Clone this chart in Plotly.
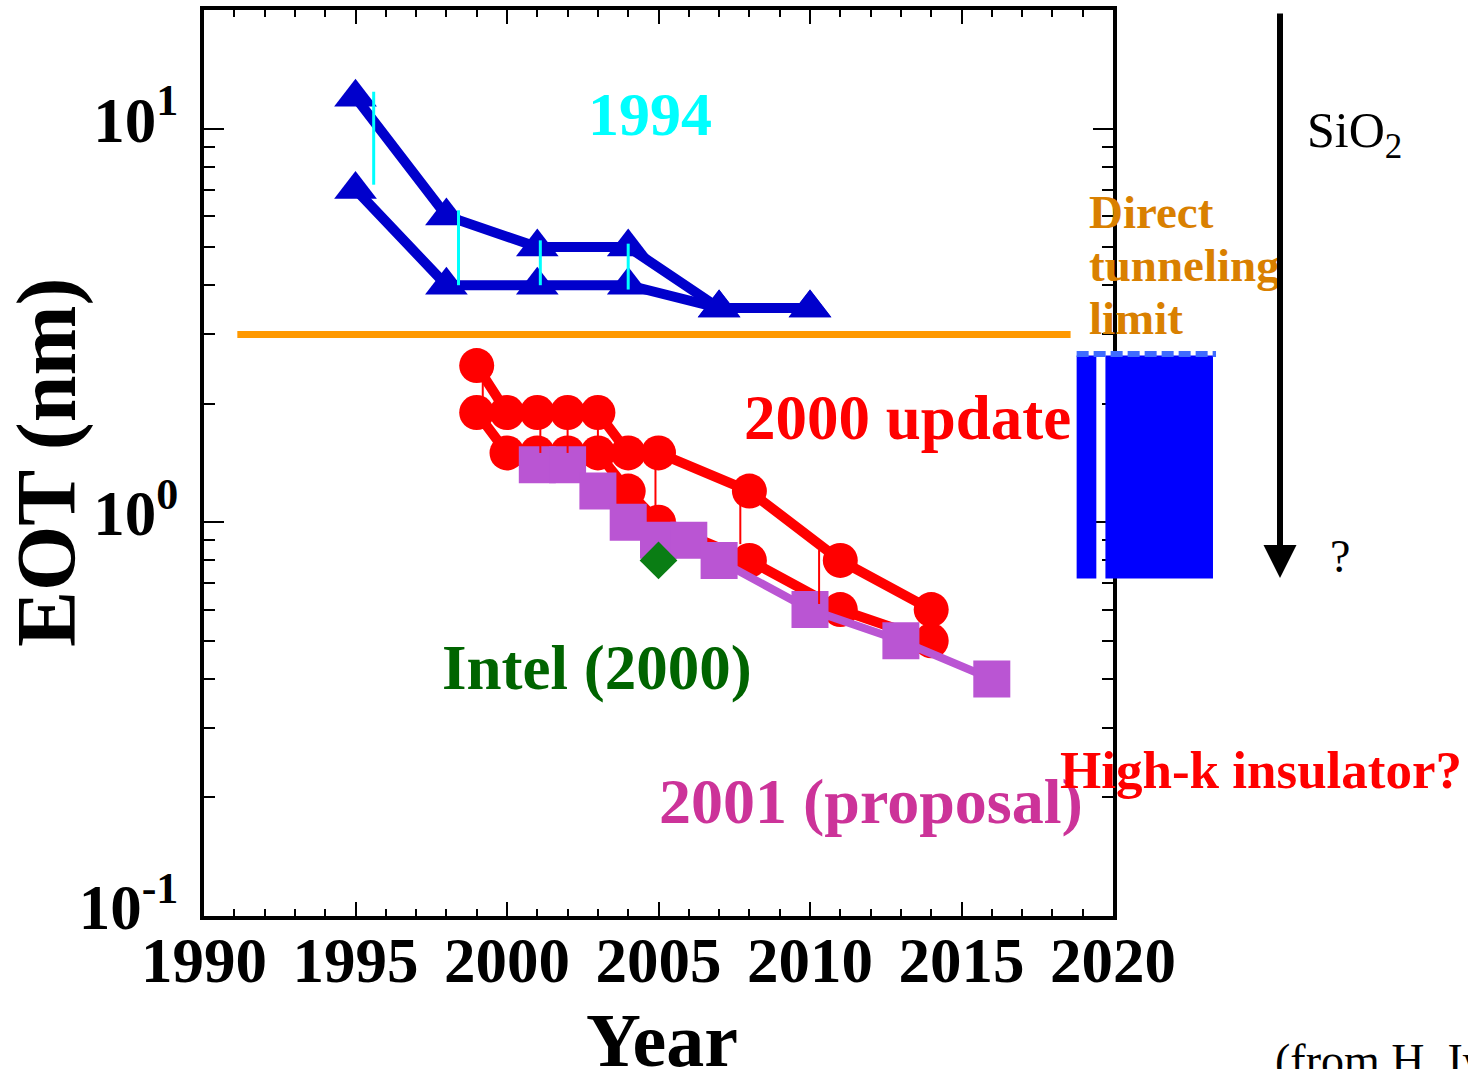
import numpy as np
import plotly.graph_objects as go

# ---------------- data ----------------
# 1994 roadmap (blue triangles): upper and lower bound of EOT (nm)
y94_years = [1995, 1998, 2001, 2004, 2007, 2010]
y94_upper = [12.0, 6.0, 5.0, 5.0, 3.5, 3.5]
y94_lower = [7.0, 4.0, 4.0, 4.0, 3.5, 3.5]
# cyan range bars of the 1994 roadmap
cyan_x = [1995.6, 1998.4, 2001.1, 2004.0]
cyan_top = [12.4, 6.2, 5.2, 5.1]
cyan_bot = [7.2, 4.0, 4.0, 3.9]

# 2000 update (red circles)
u00_years = [1999, 2000, 2001, 2002, 2003, 2004, 2005, 2008, 2011, 2014]
u00_upper = [2.5, 1.9, 1.9, 1.9, 1.9, 1.5, 1.5, 1.2, 0.8, 0.6]
u00_lower = [1.9, 1.5, 1.5, 1.5, 1.5, 1.2, 1.0, 0.8, 0.6, 0.5]
# thin red range bars
red_x = [1999.2, 2001.1, 2002.0, 2003.0, 2004.9, 2007.7, 2010.3]
red_top = [2.6, 2.0, 2.0, 2.0, 1.48, 1.18, 0.85]
red_bot = [1.9, 1.5, 1.5, 1.5, 1.1, 0.88, 0.62]

# 2001 proposal (purple squares)
p01_years = [2001, 2002, 2003, 2004, 2005, 2006, 2007, 2010, 2013, 2016]
p01_eot = [1.4, 1.4, 1.2, 1.0, 0.9, 0.9, 0.8, 0.6, 0.5, 0.4]

# Intel (2000)
intel_year = [2005]
intel_eot = [0.8]

# direct tunneling limit
tunnel_eot = 3.0
tunnel_x = [1991.1, 2018.6]

# high-k block (blue rectangles)
hk_left = [[2018.8, 2019.45], [2019.75, 2023.3]]
hk_lo = 0.72
hk_hi = 2.65

x_ticks = [1990, 1995, 2000, 2005, 2010, 2015, 2020]
x_minor = list(range(1990, 2021))
y_ticks = [0.1, 1, 10]
y_ticktext = ['10<sup>-1</sup>', '10<sup>0</sup>', '10<sup>1</sup>']
y_minor = [0.2, 0.3, 0.4, 0.5, 0.6, 0.7, 0.8, 0.9, 2, 3, 4, 5, 6, 7, 8, 9, 20]

# ---------------- layout geometry ----------------
W, H = 1468, 1069
PX0, PX1 = 204, 1113   # plot area left/right (px)
PY0, PY1 = 10, 916     # plot area top/bottom (px)
XR = [1990, 2020]
YR = [-1, np.log10(20)]

def px(x):
    return x / W

def py(y):
    return 1 - y / H

# helper overlay axes spanning the whole figure at the same scale
ypp = (XR[1] - XR[0]) / (PX1 - PX0)
x2r = [XR[0] - PX0 * ypp, XR[1] + (W - PX1) * ypp]
dpp = (YR[1] - YR[0]) / (PY1 - PY0)
y2r = [YR[0] - (H - PY1) * dpp, YR[1] + PY0 * dpp]

SERIF = 'Liberation Serif'
fig = go.Figure()

def segs(xs, tops, bots):
    X, Y = [], []
    for x, t, b in zip(xs, tops, bots):
        X += [x, x, None]
        Y += [t, b, None]
    return X, Y

BLUE = '#0000CC'
fig.add_trace(go.Scatter(x=tunnel_x, y=[tunnel_eot] * 2, mode='lines',
                         line=dict(color='#FF9900', width=7)))
for ys in (y94_upper, y94_lower):
    fig.add_trace(go.Scatter(x=y94_years, y=ys, mode='lines+markers',
                             line=dict(color=BLUE, width=10),
                             marker=dict(symbol='triangle-up', size=37, color=BLUE)))
for ys in (u00_upper, u00_lower):
    fig.add_trace(go.Scatter(x=u00_years, y=ys, mode='lines+markers',
                             line=dict(color='#FF0000', width=10),
                             marker=dict(symbol='circle', size=35, color='#FF0000')))
fig.add_trace(go.Scatter(x=p01_years, y=p01_eot, mode='lines+markers',
                         line=dict(color='#BA55D3', width=8),
                         marker=dict(symbol='square', size=37, color='#BA55D3')))
fig.add_trace(go.Scatter(x=intel_year, y=intel_eot, mode='markers',
                         marker=dict(symbol='diamond', size=29, color='#0A7D14')))
cx, cy = segs(cyan_x, cyan_top, cyan_bot)
fig.add_trace(go.Scatter(x=cx, y=cy, mode='lines', line=dict(color='#00FFFF', width=3)))
rx, ry = segs(red_x, red_top, red_bot)
fig.add_trace(go.Scatter(x=rx, y=ry, mode='lines', line=dict(color='#FF0000', width=2)))

# high-k rectangles and dotted limit (helper axes, not clipped to plot area)
for x0, x1 in hk_left:
    fig.add_trace(go.Scatter(x=[x0, x1, x1, x0, x0], y=[hk_lo, hk_lo, hk_hi, hk_hi, hk_lo],
                             mode='lines', fill='toself', fillcolor='#0000FF',
                             line=dict(width=0), xaxis='x2', yaxis='y2'))
fig.add_trace(go.Scatter(x=[hk_left[0][0], hk_left[1][1] + 0.1], y=[hk_hi * 1.01] * 2,
                         mode='lines', line=dict(color='#3F6BFF', width=6, dash='12px,5px'),
                         xaxis='x2', yaxis='y2'))

axis_common = dict(showline=True, linewidth=4, linecolor='black', mirror='ticks',
                   ticks='inside', tickcolor='black', showgrid=False, zeroline=False,
                   automargin=False)
fig.update_layout(
    template='none',
    width=W, height=H, margin=dict(l=0, r=0, t=0, b=0, pad=0, autoexpand=False),
    paper_bgcolor='white', plot_bgcolor='rgba(0,0,0,0)', showlegend=False,
    xaxis=dict(domain=[px(PX0), px(PX1)], range=XR, anchor='y',
               tickmode='array', tickvals=x_ticks, ticklen=14, tickwidth=2,
               minor=dict(tickvals=x_minor, ticks='inside', ticklen=7, tickwidth=1.5, tickcolor='black'),
               tickfont=dict(family=SERIF, size=63, color='black', weight='bold'),
               ticklabelstandoff=-14, **axis_common),
    yaxis=dict(domain=[py(PY1), py(PY0)], type='log', range=YR, anchor='x',
               tickmode='array', tickvals=y_ticks, ticktext=y_ticktext, ticklen=20, tickwidth=2,
               minor=dict(tickvals=y_minor, ticks='inside', ticklen=11, tickwidth=1.5, tickcolor='black'),
               tickfont=dict(family=SERIF, size=63, color='black', weight='bold'),
               ticklabelstandoff=9, ticklabelshift=-9, **axis_common),
    xaxis2=dict(domain=[0, 1], range=x2r, anchor='y2', visible=False, automargin=False),
    yaxis2=dict(domain=[0, 1], type='log', range=y2r, anchor='x2', visible=False, automargin=False),
)

def note(text, x, y, size, color, bold=True, xanchor='left', yanchor='middle', angle=0):
    t = f'<b>{text}</b>' if bold else text
    fig.add_annotation(text=t, x=px(x), y=py(y), xref='paper', yref='paper',
                       xanchor=xanchor, yanchor=yanchor, showarrow=False, textangle=angle,
                       font=dict(family=SERIF, size=size, color=color))

note('1994', 650, 114, 62, '#00FFFF', xanchor='center')
note('2000 update', 742, 418, 63, '#FF0000')
note('Intel (2000)', 440, 668, 63, '#006400')
note('2001 (proposal)', 657, 801, 64, '#CC3399')
note('High-k insulator?', 1058, 770, 53, '#FF0000')
note('Direct', 1087, 212, 47, '#D98000')
note('tunneling', 1087, 265, 47, '#D98000')
note('limit', 1087, 318, 47, '#D98000')
note('SiO<sub>2</sub>', 1305, 134, 50, 'black', bold=False)
note('?', 1328, 556, 46, 'black', bold=False)
note('(from H. Iwai)', 1273, 1060, 46, 'black', bold=False)
note('Year', 662, 1040, 76, 'black', xanchor='center')
note('EOT (nm)', 47, 462, 84, 'black', xanchor='center', angle=-90)

# SiO2 arrow
fig.add_annotation(x=px(1280), y=py(578), xref='paper', yref='paper',
                   ax=0, ay=-566, axref='pixel', ayref='pixel', text='', showarrow=True,
                   arrowhead=2, arrowsize=1.1, arrowwidth=6, arrowcolor='black')

fig.write_html("out.html", include_plotlyjs=True, config={'displayModeBar': False},
               post_script="document.body.style.margin='0';document.body.style.overflow='hidden';")
